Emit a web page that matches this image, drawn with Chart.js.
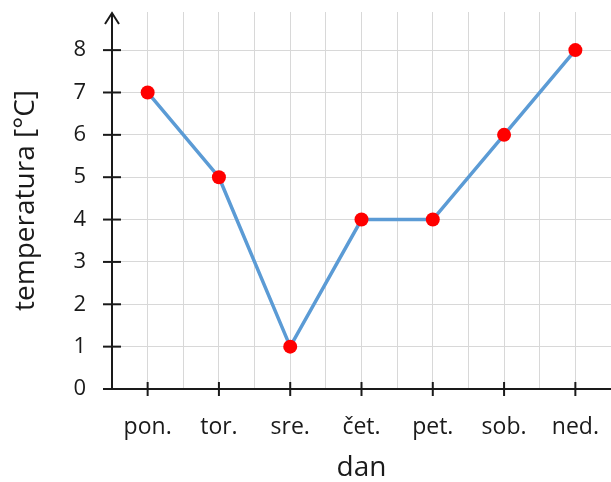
<!DOCTYPE html>
<html>
<head>
<meta charset="utf-8">
<script src="https://cdn.jsdelivr.net/npm/chart.js@4"></script>
<style>
html,body{margin:0;padding:0;background:#fff;}
#wrap{width:611px;height:482px;}
</style>
</head>
<body>
<div id="wrap"><canvas id="c" width="611" height="482"></canvas></div>
<script>
const days = ['pon.', 'tor.', 'sre.', 'čet.', 'pet.', 'sob.', 'ned.'];
const temps = [7, 5, 1, 4, 4, 6, 8];
const yTickValues = [0, 1, 2, 3, 4, 5, 6, 7, 8];
const xGridValues = [-0.5, 0, 0.5, 1, 1.5, 2, 2.5, 3, 3.5, 4, 4.5, 5, 5.5, 6, 6.5];
const xTitle = 'dan';
const yTitle = 'temperatura [°C]';

const FONT = '"Open Sans", "Noto Sans", sans-serif';

const axesPlugin = {
  id: 'axesPlugin',
  afterDatasetsDraw(chart) {
    const ctx = chart.ctx;
    const xs = chart.scales.x, ys = chart.scales.y;
    const x0 = xs.getPixelForValue(xs.min);
    const y0 = ys.getPixelForValue(0);
    ctx.save();
    ctx.strokeStyle = '#1a1a1a';
    ctx.lineWidth = 2;
    ctx.lineCap = 'butt';
    // y axis
    ctx.beginPath();
    ctx.moveTo(x0, y0);
    ctx.lineTo(x0, chart.chartArea.top + 1);
    ctx.stroke();
    // arrow
    ctx.beginPath();
    ctx.moveTo(x0 - 7, chart.chartArea.top + 12);
    ctx.lineTo(x0, chart.chartArea.top + 1);
    ctx.lineTo(x0 + 7, chart.chartArea.top + 12);
    ctx.stroke();
    // x axis
    ctx.beginPath();
    ctx.moveTo(x0 - 9, y0);
    ctx.lineTo(chart.chartArea.right, y0);
    ctx.stroke();
    // y ticks
    yTickValues.forEach(v => {
      const p = ys.getPixelForValue(v);
      ctx.beginPath();
      ctx.moveTo(x0 - 9, p);
      ctx.lineTo(x0 + 9, p);
      ctx.stroke();
    });
    // x ticks
    days.forEach((d, i) => {
      const p = xs.getPixelForValue(i);
      ctx.beginPath();
      ctx.moveTo(p, y0 - 7);
      ctx.lineTo(p, y0 + 7);
      ctx.stroke();
    });
    ctx.restore();
  }
};

new Chart(document.getElementById('c'), {
  type: 'line',
  data: {
    datasets: [{
      data: temps.map((t, i) => ({ x: i, y: t })),
      borderColor: '#5b9bd5',
      borderWidth: 3.5,
      pointBackgroundColor: '#ff0000',
      pointBorderColor: '#ff0000',
      pointBorderWidth: 0,
      pointRadius: 7,
      fill: false,
      tension: 0,
      clip: false
    }]
  },
  options: {
    responsive: false,
    animation: false,
    events: [],
    layout: { autoPadding: false, padding: { top: 12, right: 0, left: 0, bottom: 0 } },
    plugins: { legend: { display: false }, tooltip: { enabled: false } },
    scales: {
      x: {
        type: 'linear',
        min: -0.5,
        max: 6.5,
        afterBuildTicks: s => { s.ticks = xGridValues.map(v => ({ value: v })); },
        afterFit: s => { s.height = 93; s.paddingLeft = 0; s.paddingRight = 0; },
        border: { display: false },
        grid: { color: '#d8d8d8', lineWidth: 1, drawTicks: false },
        ticks: {
          autoSkip: false,
          maxRotation: 0,
          padding: 25,
          color: '#1a1a1a',
          font: { family: FONT, size: 23 },
          callback: v => (Number.isInteger(v) && days[v] !== undefined) ? days[v] : ''
        },
        title: {
          display: true,
          text: xTitle,
          color: '#1a1a1a',
          font: { family: FONT, size: 28, lineHeight: 1.0 },
          padding: { top: 0, bottom: 0 }
        }
      },
      y: {
        min: 0,
        max: 8.9,
        afterBuildTicks: s => { s.ticks = yTickValues.map(v => ({ value: v })); },
        afterFit: s => { s.width = 112; s.paddingTop = 0; s.paddingBottom = 0; },
        border: { display: false },
        grid: { color: '#d8d8d8', lineWidth: 1, drawTicks: false },
        ticks: {
          padding: 26,
          color: '#1a1a1a',
          font: { family: FONT, size: 22 },
          callback: v => String(v)
        },
        title: {
          display: true,
          text: yTitle,
          color: '#1a1a1a',
          font: { family: FONT, size: 28 },
          padding: { top: 9, bottom: 0 }
        }
      }
    }
  },
  plugins: [axesPlugin]
});
</script>
</body>
</html>
